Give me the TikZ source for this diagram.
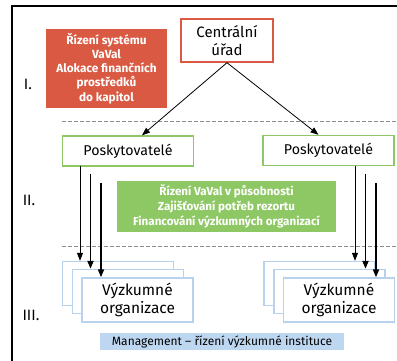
\documentclass[tikz,border=0pt]{standalone}
\usepackage{fontspec}
\setmainfont{Fira Sans}
\usetikzlibrary{arrows.meta,calc}

\definecolor{redfill}{RGB}{218,89,67}
\definecolor{greenfill}{RGB}{142,200,101}
\definecolor{bluefill}{RGB}{190,215,240}
\definecolor{blueline}{RGB}{184,210,238}
\definecolor{dashgray}{RGB}{140,140,140}

\begin{document}
\begin{tikzpicture}
[x=1pt,y=-1pt,
  redbox/.style={fill=redfill,text=white,font=\bfseries\fontsize{11.8}{14.2}\selectfont,
    align=center,minimum width=121,minimum height=79,inner sep=0pt},
  greenbox/.style={fill=greenfill,text=white,font=\bfseries\fontsize{11.6}{15}\selectfont,
    align=center,minimum width=219,minimum height=51,inner sep=0pt},
  centralbox/.style={draw=redfill,line width=1.4pt,fill=white,align=center,
    font=\fontsize{15}{18.5}\selectfont,minimum width=92,minimum height=43,inner sep=0pt},
  providerbox/.style={draw=greenfill,line width=1.4pt,fill=white,
    font=\fontsize{14.2}{17}\selectfont,minimum width=131,minimum height=30,inner sep=0pt},
  orgbox/.style={draw=blueline,line width=1.4pt,fill=white,align=center,
    font=\fontsize{15.5}{18.5}\selectfont,minimum width=111,minimum height=44,inner sep=0pt},
  levellabel/.style={font=\fontsize{15}{17}\selectfont},
  arrowthin/.style={-{Triangle[length=8pt,width=6pt]},line width=0.8pt},
  arrowthick/.style={-{Triangle[length=8pt,width=6pt]},line width=1.9pt},
  levelline/.style={dashgray,dash pattern=on 4pt off 2pt,line width=0.9pt}]
\useasboundingbox (0,0) rectangle (397,361);
%% frame and level separators
\draw[line width=1.4pt] (12,361) -- (12,6) -- (397,6);
\draw[levelline] (62,121) -- (397,121);
\draw[levelline] (62,246) -- (397,246);
\node[levellabel] (lvl1) at (28,84) {I.};
\node[levellabel] (lvl2) at (29,200) {II.};
\node[levellabel] (lvl3) at (31,315) {III.};
%% boxes
\node (sys) at (106.5,68.5) [redbox] {Řízení systému\\VaVal\\Alokace finančních\\prostředků\\do kapitol};
\node (centr) at (227,40.5) [centralbox] {Centrální\\úřad};
\node (posk1) at (128,151) [providerbox] {Poskytovatelé};
\node (posk2) at (328.5,150.5) [providerbox] {Poskytovatelé};
\node (rez) at (226.5,206.5) [greenbox] {Řízení VaVal v působnosti\\Zajišťování potřeb rezortu\\Financování výzkumných organizací};
\foreach \side/\x in {1/118, 2/319.5} {
  \node (vo\side a) at (\x,283.5) [orgbox] {};
  \node (vo\side b) at ($(vo\side a)+(10,8)$) [orgbox] {};
  \node (vo\side c) at ($(vo\side a)+(19.5,16.5)$) [orgbox] {Výzkumné\\organizace};
}
\node (mgmt) at (222,341.5) [fill=bluefill,minimum width=244,minimum height=17,inner sep=0pt,
  font=\fontsize{12}{13}\selectfont] {Management -- řízení výzkumné instituce};
%% edges
\draw[arrowthin] (centr.south) -- ($(posk1.north)+(14,0)$);
\draw[arrowthin] (centr.south) -- ($(posk2.north)+(-10,0)$);
\foreach \side/\x in {1/80, 2/355} {
  \coordinate (s\side a) at (\x,166);
  \coordinate (s\side b) at (\x+10.5,174);
  \coordinate (s\side c) at (\x+21,183);
  \draw[arrowthin] (s\side a) -- (s\side a |- vo\side a.north);
  \draw[arrowthick] (s\side b) -- (s\side b |- vo\side b.north);
  \draw[arrowthick] (s\side c) -- (s\side c |- vo\side c.north);
}
\end{tikzpicture}
\end{document}
